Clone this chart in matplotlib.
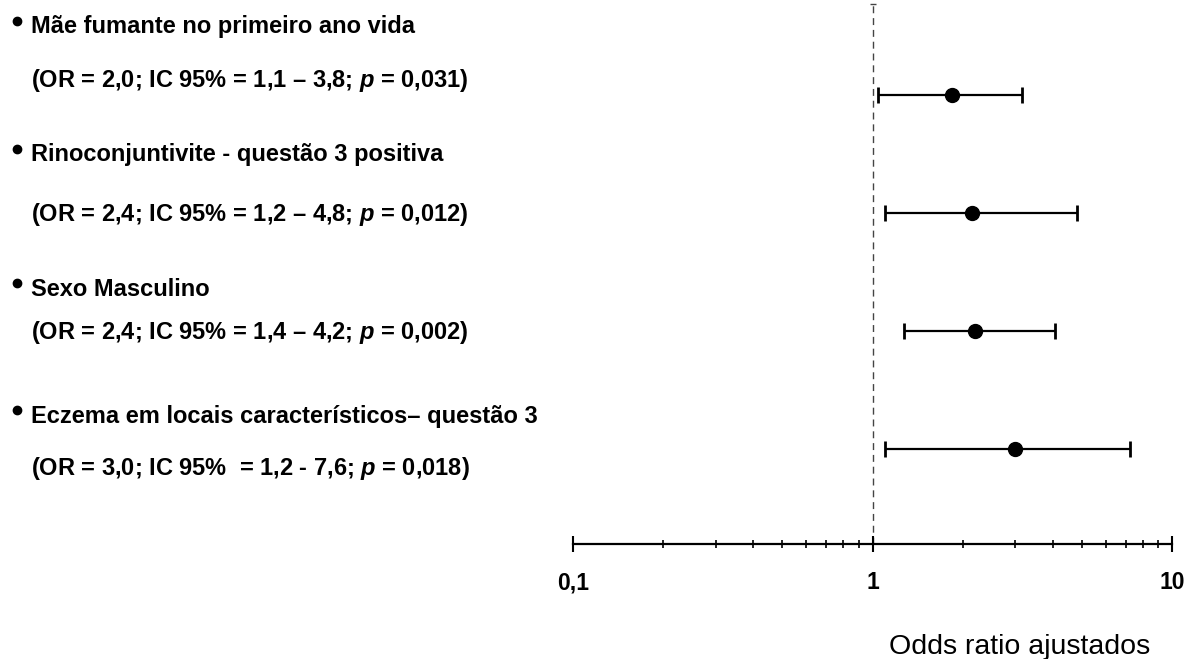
import numpy as np
import matplotlib
matplotlib.use('Agg')
import matplotlib.pyplot as plt
from matplotlib.lines import Line2D

plt.rcParams['font.family'] = ['Liberation Sans', 'DejaVu Sans']
plt.rcParams['mathtext.fontset'] = 'custom'
plt.rcParams['mathtext.it'] = 'Liberation Sans:italic:bold'
plt.rcParams['mathtext.rm'] = 'Liberation Sans:bold'

# Dados
Fatores = ['Mãe fumante no primeiro ano vida',
           'Rinoconjuntivite - questão 3 positiva',
           'Sexo Masculino',
           'Eczema em locais característicos– questão 3']
Estatisticas = [r'(OR = 2,0; IC 95% = 1,1 – 3,8; $p$ = 0,031)',
                r'(OR = 2,4; IC 95% = 1,2 – 4,8; $p$ = 0,012)',
                r'(OR = 2,4; IC 95% = 1,4 – 4,2; $p$ = 0,002)',
                r'(OR = 3,0; IC 95%  = 1,2 - 7,6; $p$ = 0,018)']
OR = [1.84, 2.15, 2.20, 2.99]
IC_inf = [1.04, 1.105, 1.27, 1.105]
IC_sup = [3.15, 4.83, 4.07, 7.23]
Ticks = [0.1, 1, 10]
Tick_labels = ['0,1', '1', '10']

W, H = 1201, 659
fig = plt.figure(figsize=(W / 100, H / 100), dpi=100)

# eixo do forest plot
ax_l, ax_r, ax_b, ax_t = 573, 1172, 544, 0
ax = fig.add_axes([ax_l / W, 1 - ax_b / H, (ax_r - ax_l) / W, (ax_b - ax_t) / H])

Y = np.arange(len(Fatores))[::-1]
OR = np.array(OR)
err = np.vstack([OR - np.array(IC_inf), np.array(IC_sup) - OR])
ax.errorbar(OR, Y, xerr=err, fmt='o', color='black', markersize=10,
            elinewidth=1.6, capsize=5.5, capthick=2, zorder=3)

topo = 3.77
ax.vlines(1, -0.805, topo, color='#444444', lw=1, ls=(0, (5, 3.5)), zorder=1)
ax.plot([1], [topo], marker='_', color='#444444', markersize=5, mew=1)

ax.set_xscale('log')
ax.set_xlim(0.1, 10)
ax.set_ylim(-0.805, 3.805)
for s in ['left', 'top', 'right']:
    ax.spines[s].set_visible(False)
ax.spines['bottom'].set_linewidth(1.6)
ax.set_yticks([])
ax.set_xticks(Ticks)
ax.set_xticklabels(Tick_labels, fontsize=16.5, fontweight='bold')
ax.tick_params(axis='x', which='major', direction='inout', length=11, width=1.5, pad=14)
ax.tick_params(axis='x', which='minor', direction='inout', length=6, width=1.2)
ax.xaxis.set_minor_formatter(matplotlib.ticker.NullFormatter())

# textos à esquerda
Y_tit = [27, 155, 289, 416]
Y_est = [80, 214, 333, 468]
for i in range(len(Fatores)):
    yb = 1 - (Y_tit[i] - 6) / H
    fig.add_artist(Line2D([17 / W], [yb], marker='o', markersize=6, color='black',
                          transform=fig.transFigure))
    fig.text(31 / W, 1 - Y_tit[i] / H, Fatores[i], fontsize=17, fontweight='bold', va='center')
    fig.text(31 / W, 1 - Y_est[i] / H, Estatisticas[i], fontsize=17, fontweight='bold', va='center')

fig.text(1020 / W, 1 - 647 / H, 'Odds ratio ajustados', fontsize=20.5, ha='center', va='center')

plt.savefig('out.png', dpi=100)
